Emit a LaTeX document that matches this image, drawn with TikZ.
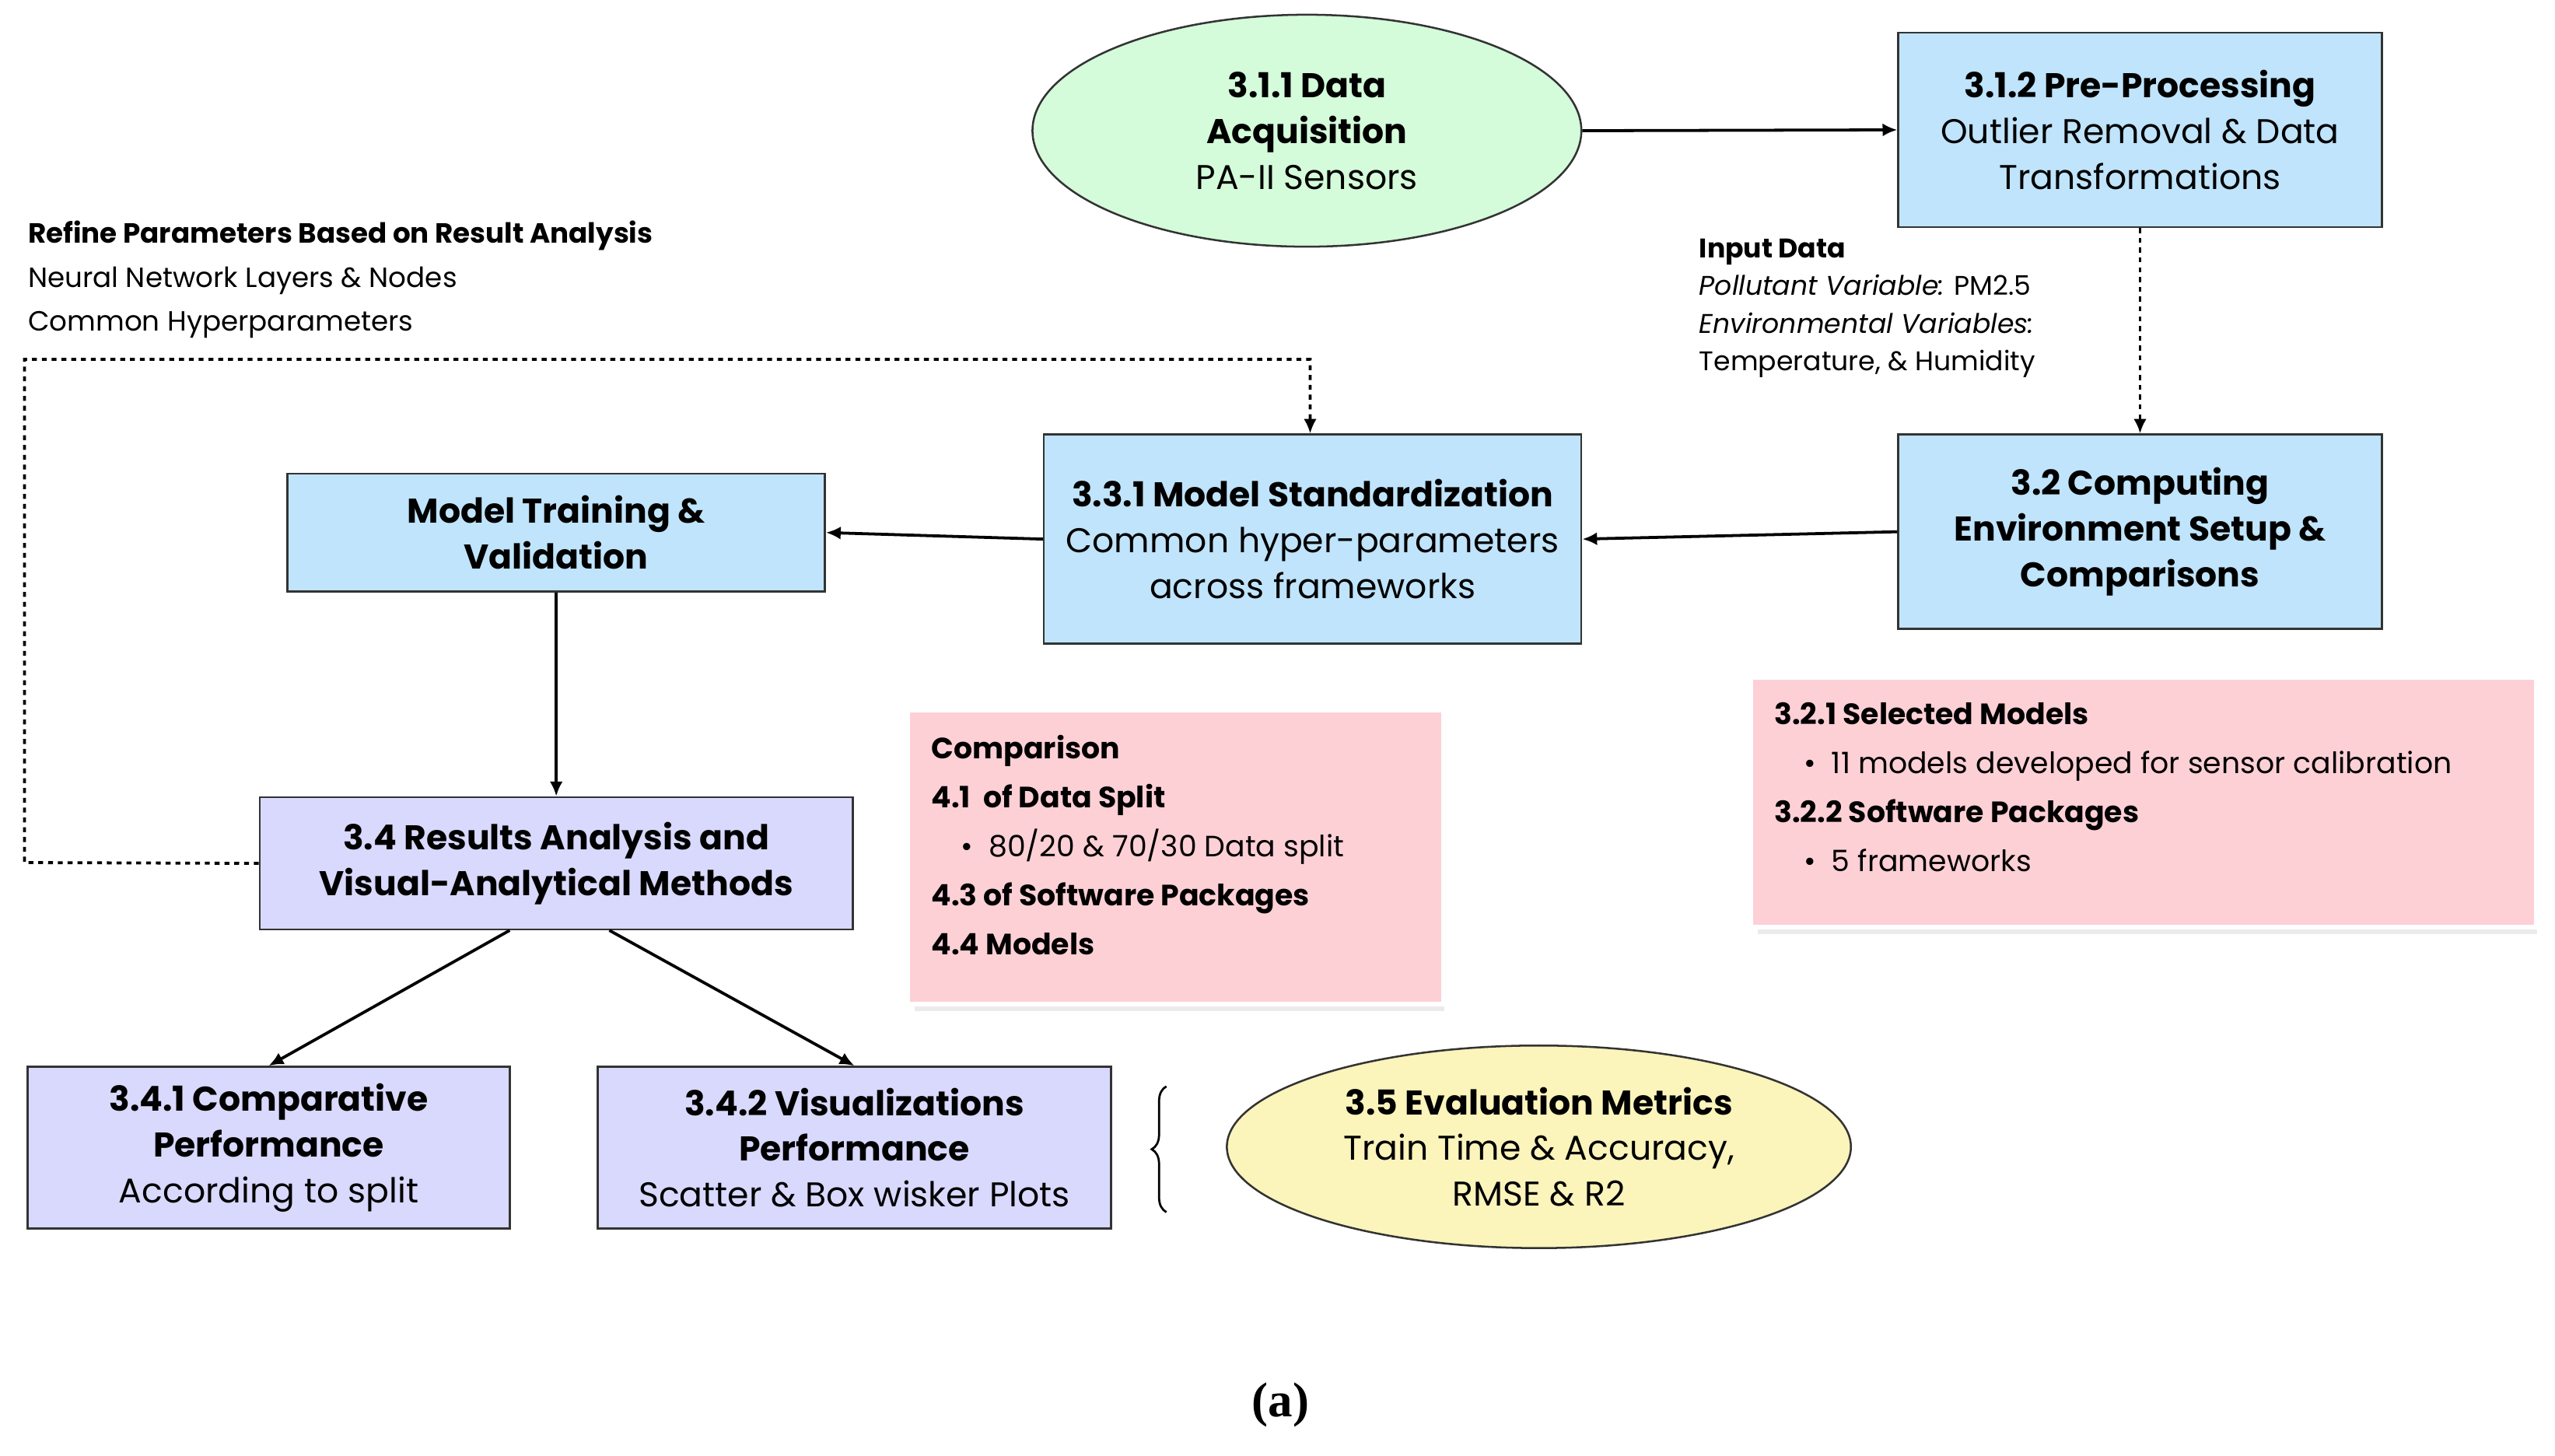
\documentclass[tikz,border=0pt]{standalone}
\usepackage{fontspec}
\setmainfont{Poppins}
\newfontfamily\serifa{Liberation Serif}
\usetikzlibrary{arrows.meta,decorations.pathreplacing,shapes.geometric}
\definecolor{gr}{HTML}{D4FBDA}
\definecolor{bl}{HTML}{BFE4FB}
\definecolor{lv}{HTML}{D8D9FC}
\definecolor{pk}{HTML}{FDD0D6}
\definecolor{ye}{HTML}{FBF4BB}
\begin{document}
\begin{tikzpicture}[x=1pt,y=-1pt,
 box/.style={draw=black!80,line width=1.2pt,align=center,inner sep=0pt,font=\fontsize{21}{28}\selectfont},
 arr/.style={line width=1.8pt,-{Latex[length=9pt,width=8pt]}},
 pinkt/.style={align=left,anchor=north west,inner sep=0pt,font=\fontsize{18}{30}\selectfont}]
\useasboundingbox (0,0) rectangle (1564,891);
% top
\node[box,ellipse,fill=gr,minimum width=336,minimum height=142] (acq) at (800,80) {\textbf{3.1.1 Data}\\\textbf{Acquisition}\\PA-II Sensors};
\node[box,fill=bl,minimum width=296,minimum height=119] (pre) at (1310,79.5) {\textbf{3.1.2 Pre-Processing}\\Outlier Removal \& Data\\Transformations};
\node[box,fill=bl,minimum width=296,minimum height=119] (comp) at (1310,325.5) {\textbf{3.2 Computing}\\\textbf{Environment Setup \&}\\\textbf{Comparisons}};
\node[box,fill=bl,minimum width=329,minimum height=128] (std) at (803.5,330) {\textbf{3.3.1 Model Standardization}\\Common hyper-parameters\\across frameworks};
\node[box,fill=bl,minimum width=329,minimum height=72] (train) at (340.5,326) {\textbf{Model Training \&}\\\textbf{Validation}};
\node[box,fill=lv,minimum width=363,minimum height=81] (res) at (340.5,528.5) {\textbf{3.4 Results Analysis and}\\\textbf{Visual-Analytical Methods}};
\node[box,fill=lv,minimum width=295,minimum height=99] (cp) at (164.5,702.5) {\textbf{3.4.1 Comparative}\\\textbf{Performance}\\According to split};
\node[box,fill=lv,minimum width=314,minimum height=99] (vis) at (523,702.5) {\textbf{3.4.2 Visualizations}\\\textbf{Performance}\\Scatter \& Box wisker Plots};
\node[box,ellipse,fill=ye,minimum width=382,minimum height=124] (ev) at (942,702) {\textbf{3.5 Evaluation Metrics}\\Train Time \& Accuracy,\\RMSE \& R2};
% pink boxes
\fill[black!8] (560,616) rectangle (884,619);
\node[fill=pk,minimum width=325,minimum height=177,inner sep=0pt] (pk1) at (719.5,524.5) {};
\node[pinkt] (pk1t) at (570,450) {\textbf{Comparison}\\\textbf{4.1\ \ of Data Split}\\\quad\textbullet\ \ 80/20 \& 70/30 Data split\\\textbf{4.3 of Software Packages}\\\textbf{4.4 Models}};
\fill[black!8] (1076,569) rectangle (1553,572);
\node[fill=pk,minimum width=478,minimum height=150,inner sep=0pt] (pk2) at (1312,491) {};
\node[pinkt] (pk2t) at (1086,430) {\textbf{3.2.1 Selected Models}\\\quad\textbullet\ \ 11 models developed for sensor calibration\\\textbf{3.2.2 Software Packages}\\\quad\textbullet\ \ 5 frameworks};
% texts
\node[anchor=north west,align=left,inner sep=0pt,font=\fontsize{16.5}{23}\selectfont] (inp) at (1040,146) {\textbf{Input Data}\\\textit{Pollutant Variable:} PM2.5\\\textit{Environmental Variables:}\\Temperature, \& Humidity};
\node[anchor=north west,align=left,inner sep=0pt,font=\fontsize{17}{27}\selectfont] (ref) at (17,135) {\textbf{Refine Parameters Based on Result Analysis}\\Neural Network Layers \& Nodes\\Common Hyperparameters};
\node[font=\serifa\bfseries\fontsize{30}{30}\selectfont] (a) at (784,860) {(a)};
% arrows
\draw[arr] (acq.east) -- (pre.west);
\draw[arr,dashed] (pre.south) -- (comp.north);
\draw[arr] (comp.west) -- (std.east);
\draw[arr] (std.west) -- (train.east);
\draw[arr] (train.south) -- (res.north);
\coordinate (r1) at (312,569.5);
\coordinate (r2) at (373,569.5);
\draw[arr] (r1) -- (cp.north);
\draw[arr] (r2) -- (vis.north);
\coordinate (l1) at (15,528);
\coordinate (l2) at (15,220);
\coordinate (l3) at (802,220);
\draw[line width=1.8pt,dashed,-{Latex[length=9pt,width=8pt]}] (res.west) -- (l1) -- (l2) -- (l3) -- (l3|-std.north);
\coordinate (b1) at (714,742);
\coordinate (b2) at (714,665);
\draw[line width=1.3pt,decorate,decoration={brace,amplitude=9pt}] (b1) -- (b2);
\end{tikzpicture}
\end{document}
